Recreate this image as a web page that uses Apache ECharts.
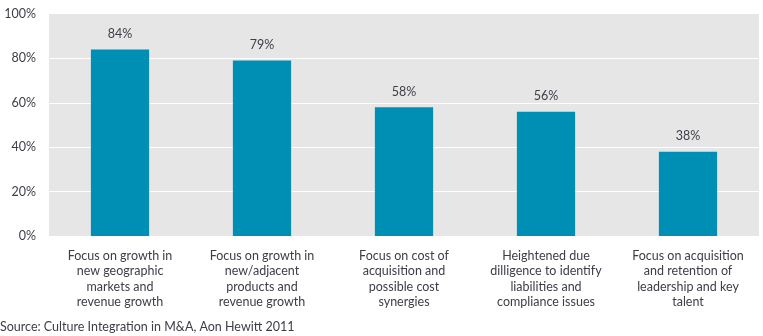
<!DOCTYPE html>
<html>
<head>
<meta charset="utf-8">
<script src="https://cdn.jsdelivr.net/npm/echarts@6/dist/echarts.min.js"></script>
<style>
  html, body { margin: 0; padding: 0; background: #fff; }
  #chart { width: 763px; height: 336px; }
</style>
</head>
<body>
<div id="chart"></div>
<script>
// Priorities in M&A deals (share of respondents)
const categories = [
  'Focus on growth in\nnew geographic\nmarkets and\nrevenue growth',
  'Focus on growth in\nnew/adjacent\nproducts and\nrevenue growth',
  'Focus on cost of\nacquisition and\npossible cost\nsynergies',
  'Heightened due\ndilligence to identify\nliabilities and\ncompliance issues',
  'Focus on acquisition\nand retention of\nleadership and key\ntalent'
];
const values = [84, 79, 58, 56, 38];
const yTicks = [0, 20, 40, 60, 80, 100];
const sourceNote = 'Source: Culture Integration in M&A, Aon Hewitt 2011';

const FONT = 'Lato';
const TEXT = '#3d3d48';

const chart = echarts.init(document.getElementById('chart'), null, { renderer: 'canvas' });
chart.setOption({
  animation: false,
  grid: {
    left: 49, right: 4, top: 14, bottom: 100,
    show: true, backgroundColor: '#e6e6e6', borderWidth: 0
  },
  xAxis: {
    type: 'category',
    data: categories,
    axisLine: { show: false },
    axisTick: { show: false },
    axisLabel: {
      interval: 0, margin: 12, color: TEXT, fontFamily: FONT, fontSize: 12.5,
      lineHeight: 15.5, align: 'center', verticalAlign: 'top'
    }
  },
  yAxis: {
    type: 'value',
    min: yTicks[0], max: yTicks[yTicks.length - 1], interval: 20,
    axisLine: { show: false },
    axisTick: { show: false },
    splitLine: {
      show: true,
      lineStyle: { color: '#ffffff', width: 1 },
      showMaxLine: false, showMinLine: false
    },
    axisLabel: {
      margin: 13, color: TEXT, fontFamily: FONT, fontSize: 12.5,
      formatter: v => v + '%'
    }
  },
  series: [{
    type: 'bar',
    data: values,
    barWidth: '41%',
    itemStyle: { color: '#008fb4' },
    label: {
      show: true, position: 'top', distance: 9,
      color: TEXT, fontFamily: FONT, fontSize: 12.5,
      formatter: p => p.value + '%'
    }
  }],
  graphic: [{
    type: 'text', left: 0, top: 320,
    style: { text: sourceNote, fill: TEXT, font: '12.5px ' + FONT }
  }]
});
</script>
</body>
</html>
